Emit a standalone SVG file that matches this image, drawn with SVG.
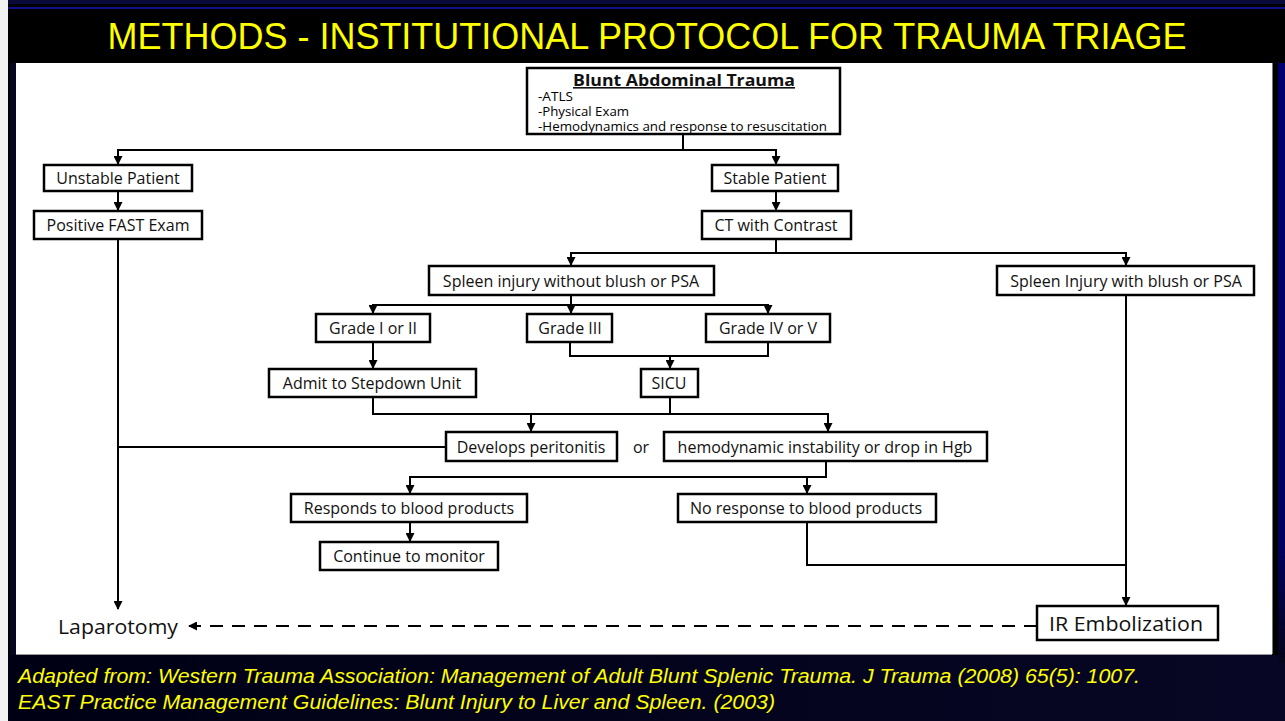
<svg xmlns="http://www.w3.org/2000/svg" width="1285" height="721" viewBox="0 0 1285 721">
<defs>
<style>
.box{fill:#fff;stroke:#000;stroke-width:2.5}
.lbl{font-family:"Open Sans","Liberation Sans",sans-serif;font-size:16px;fill:#111;text-anchor:middle;dominant-baseline:central}
.con{fill:none;stroke:#000;stroke-width:2}
.yel{font-family:"Liberation Sans",Arial,sans-serif;fill:#ffff00}
.sm{font-family:"Open Sans","Liberation Sans",sans-serif;font-size:12px;fill:#000}
</style>
<marker id="ah" markerUnits="userSpaceOnUse" markerWidth="9" markerHeight="9" refX="8" refY="4.5" orient="auto">
<path d="M0,0 L9,4.5 L0,9 z" fill="#000"/>
</marker>
<linearGradient id="foot" x1="0" y1="0" x2="1" y2="0">
<stop offset="0" stop-color="#000014"/>
<stop offset="1" stop-color="#070725"/>
</linearGradient>
<linearGradient id="rside" x1="0" y1="0" x2="0" y2="1">
<stop offset="0" stop-color="#000070"/>
<stop offset="0.8" stop-color="#000060"/>
<stop offset="1" stop-color="#05051a"/>
</linearGradient>
</defs>
<g id="background">
<rect x="0" y="0" width="1285" height="721" fill="#000"/>
<rect x="0" y="655" width="1285" height="66" fill="url(#foot)"/>
<rect x="0" y="0" width="1285" height="4" fill="#0a0a3a"/>
<rect x="8" y="7" width="1277" height="2" fill="#10108a"/>
<rect x="0" y="0" width="8" height="721" fill="#f2f2f2"/>
<rect x="10" y="63" width="6" height="592" fill="#06061e"/>
<rect x="1278" y="63" width="7" height="600" fill="url(#rside)"/>
<rect x="16" y="63" width="1256" height="591" fill="#fff"/>
<line x1="1272.5" y1="63" x2="1272.5" y2="654" stroke="#777" stroke-width="1"/>
<line x1="16" y1="654.5" x2="1272" y2="654.5" stroke="#999" stroke-width="1"/>
</g>
<text class="yel" x="647" y="49" font-size="36" text-anchor="middle" textLength="1079" lengthAdjust="spacingAndGlyphs">METHODS - INSTITUTIONAL PROTOCOL FOR TRAUMA TRIAGE</text>
<g id="connectors">
<path class="con" d="M683,134 V150 H118 V164"  marker-end="url(#ah)"/>
<path class="con" d="M683,150 H776 V164" marker-end="url(#ah)"/>
<path class="con" d="M118,191 V210" marker-end="url(#ah)"/>
<path class="con" d="M776,191 V210" marker-end="url(#ah)"/>
<path class="con" d="M776,239 V253 H571 V265" marker-end="url(#ah)"/>
<path class="con" d="M776,253 H1126 V265" marker-end="url(#ah)"/>
<path class="con" d="M571,295 V305 H373 V313" marker-end="url(#ah)"/>
<path class="con" d="M571,305 V313" marker-end="url(#ah)"/>
<path class="con" d="M571,305 H768 V313" marker-end="url(#ah)"/>
<path class="con" d="M373,342 V368" marker-end="url(#ah)"/>
<path class="con" d="M570,342 V356 H768 V342"/>
<path class="con" d="M670,356 V368" marker-end="url(#ah)"/>
<path class="con" d="M373,397 V414 H531 V431" marker-end="url(#ah)"/>
<path class="con" d="M531,414 H828 V431" marker-end="url(#ah)"/>
<path class="con" d="M670,397 V414"/>
<path class="con" d="M118,239 V609" marker-end="url(#ah)"/>
<path class="con" d="M446,447 H118"/>
<path class="con" d="M826,461 V477 H410 V493" marker-end="url(#ah)"/>
<path class="con" d="M807,477 V493" marker-end="url(#ah)"/>
<path class="con" d="M410,522 V541" marker-end="url(#ah)"/>
<path class="con" d="M807,522 V565 H1126"/>
<path class="con" d="M1126,295 V605" marker-end="url(#ah)"/>
<path class="con" d="M1037,626 H189" stroke-dasharray="13 9" marker-end="url(#ah)"/>
</g>
<g id="n-blunt">
<rect class="box" x="527" y="68" width="313" height="66" stroke-width="3"/>
<text x="684" y="86" font-family="Open Sans,Liberation Sans,sans-serif" font-size="16" font-weight="bold" fill="#111" text-anchor="middle" text-decoration="underline" textLength="222" lengthAdjust="spacingAndGlyphs">Blunt Abdominal Trauma</text>
<text class="sm" x="538" y="101" textLength="35" lengthAdjust="spacingAndGlyphs">-ATLS</text>
<text class="sm" x="538" y="116" textLength="91" lengthAdjust="spacingAndGlyphs">-Physical Exam</text>
<text class="sm" x="538" y="131" textLength="289" lengthAdjust="spacingAndGlyphs">-Hemodynamics and response to resuscitation</text>
</g>
<g id="n-unstable"><rect class="box" x="44" y="165" width="148" height="26"/><text class="lbl" x="118" y="178">Unstable Patient</text></g>
<g id="n-stable"><rect class="box" x="712" y="165" width="126" height="26"/><text class="lbl" x="775" y="178">Stable Patient</text></g>
<g id="n-fast"><rect class="box" x="34" y="211" width="168" height="28"/><text class="lbl" x="118" y="225">Positive FAST Exam</text></g>
<g id="n-ct"><rect class="box" x="702" y="211" width="149" height="28"/><text class="lbl" x="776" y="225">CT with Contrast</text></g>
<g id="n-noblush"><rect class="box" x="429" y="266" width="285" height="29"/><text class="lbl" x="571" y="280.5">Spleen injury without blush or PSA</text></g>
<g id="n-blush"><rect class="box" x="997" y="266" width="257" height="29"/><text class="lbl" x="1126" y="280.5">Spleen Injury with blush or PSA</text></g>
<g id="n-g12"><rect class="box" x="316" y="314" width="114" height="28"/><text class="lbl" x="373" y="328">Grade I or II</text></g>
<g id="n-g3"><rect class="box" x="527" y="314" width="85" height="28"/><text class="lbl" x="570" y="328">Grade III</text></g>
<g id="n-g45"><rect class="box" x="706" y="314" width="124" height="28"/><text class="lbl" x="768" y="328">Grade IV or V</text></g>
<g id="n-stepdown"><rect class="box" x="269" y="369" width="207" height="28"/><text class="lbl" x="372" y="383">Admit to Stepdown Unit</text></g>
<g id="n-sicu"><rect class="box" x="641" y="369" width="57" height="28"/><text class="lbl" x="669" y="383">SICU</text></g>
<g id="n-perit"><rect class="box" x="446" y="432" width="171" height="29"/><text class="lbl" x="531" y="446.5">Develops peritonitis</text></g>
<g id="n-or"><text class="lbl" x="641" y="446.5">or</text></g>
<g id="n-hemo"><rect class="box" x="664" y="432" width="323" height="29"/><text class="lbl" x="825" y="446.5">hemodynamic instability or drop in Hgb</text></g>
<g id="n-responds"><rect class="box" x="291" y="494" width="236" height="28"/><text class="lbl" x="409" y="508">Responds to blood products</text></g>
<g id="n-noresp"><rect class="box" x="678" y="494" width="258" height="28"/><text class="lbl" x="806" y="508">No response to blood products</text></g>
<g id="n-monitor"><rect class="box" x="320" y="542" width="178" height="28"/><text class="lbl" x="409" y="556">Continue to monitor</text></g>
<g id="n-ir"><rect class="box" x="1037" y="606" width="181" height="34"/><text class="lbl" x="1126" y="623.5" style="font-size:20px" textLength="154" lengthAdjust="spacingAndGlyphs">IR Embolization</text></g>
<g id="n-lap"><text x="58" y="634" font-family="Open Sans,Liberation Sans,sans-serif" font-size="20" fill="#111" textLength="120" lengthAdjust="spacingAndGlyphs">Laparotomy</text></g>
<text class="yel" x="18" y="683" font-size="19.5" font-style="italic" textLength="1122" lengthAdjust="spacingAndGlyphs">Adapted from: Western Trauma Association: Management of Adult Blunt Splenic Trauma. J Trauma (2008) 65(5): 1007.</text>
<text class="yel" x="18" y="709" font-size="19.5" font-style="italic" textLength="757" lengthAdjust="spacingAndGlyphs">EAST Practice Management Guidelines: Blunt Injury to Liver and Spleen. (2003)</text>
</svg>
